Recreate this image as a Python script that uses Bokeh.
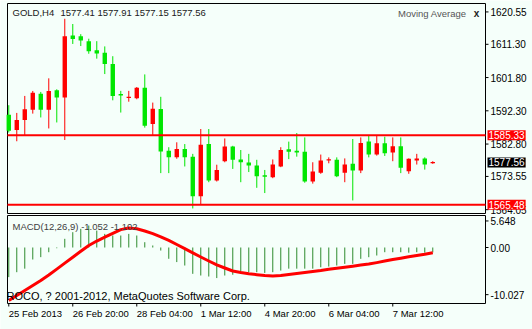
from bokeh.plotting import figure
from bokeh.models import Label, Range1d
from bokeh.core.properties import value
from bokeh.layouts import column
from bokeh.embed import file_html
from bokeh.resources import INLINE

# ---------------- data ----------------
symbol = "GOLD,H4"
opens = [1591.15, 1586.8, 1589.65, 1592.57, 1597.2, 1592.57, 1598.17, 1596.07, 1613.8, 1613.6,
         1612.2, 1609.6, 1608.9, 1605.7, 1597.1, 1596.0, 1595.9, 1598.9, 1588.5, 1592.8,
         1580.9, 1579.0, 1581.4, 1579.2, 1567.9, 1582.8, 1572.4, 1577.9, 1582.1, 1578.4,
         1577.5, 1576.7, 1573.9, 1573.35, 1576.4, 1581.3, 1580.9, 1580.6, 1572.1, 1574.6,
         1578.2, 1578.3, 1574.6, 1577.15, 1575.25, 1583.5, 1579.8, 1583.0, 1580.4, 1582.15,
         1575.05, 1578.1, 1578.7, 1577.41]
highs = [1593.9, 1591.7, 1596.55, 1597.97, 1597.7, 1601.58, 1598.45, 1618.6, 1617.1, 1614.2,
         1612.9, 1612.2, 1610.7, 1607.9, 1598.0, 1598.0, 1599.1, 1602.7, 1594.65, 1596.3,
         1581.9, 1583.3, 1582.8, 1580.0, 1587.1, 1587.1, 1576.9, 1584.4, 1582.3, 1581.1,
         1580.0, 1578.3, 1575.4, 1578.4, 1581.9, 1583.5, 1585.95, 1584.7, 1577.6, 1579.8,
         1579.0, 1579.0, 1578.7, 1584.25, 1584.7, 1585.2, 1585.2, 1584.9, 1584.7, 1584.7,
         1578.7, 1580.0, 1579.0, 1577.91]
lows = [1586.1, 1583.6, 1585.2, 1591.5, 1590.4, 1587.26, 1588.97, 1583.97, 1611.4, 1610.8,
        1608.6, 1607.2, 1602.8, 1595.3, 1591.8, 1594.9, 1595.6, 1587.5, 1585.2, 1574.5,
        1574.5, 1578.6, 1576.4, 1564.4, 1565.5, 1571.9, 1572.1, 1577.6, 1575.7, 1571.9,
        1574.8, 1570.3, 1568.8, 1573.05, 1576.2, 1578.5, 1579.2, 1571.75, 1571.5, 1574.3,
        1577.3, 1573.35, 1571.9, 1566.7, 1574.5, 1579.0, 1579.5, 1579.4, 1577.9, 1574.5,
        1574.3, 1576.95, 1575.5, 1577.15]
closes = [1586.6, 1589.65, 1592.77, 1597.49, 1592.57, 1597.97, 1596.07, 1613.6, 1612.83, 1612.4,
          1609.3, 1608.7, 1605.7, 1596.55, 1596.7, 1596.3, 1598.9, 1588.0, 1592.9, 1580.7,
          1579.0, 1581.4, 1579.0, 1567.9, 1582.6, 1572.4, 1575.4, 1582.1, 1578.3, 1577.6,
          1576.7, 1573.6, 1573.45, 1576.95, 1581.1, 1580.6, 1580.4, 1572.1, 1574.95, 1578.1,
          1578.4, 1573.6, 1576.95, 1575.25, 1583.1, 1579.8, 1583.0, 1580.2, 1582.15, 1576.0,
          1578.6, 1578.7, 1576.95, 1577.56]

macd_main = [-6.3, -5.25, -4.5, -2.55, -2.05, -1.0, -0.15, 1.85, 3.26, 3.97,
             4.68, 3.6, 2.9, 2.55, 2.55, 2.9, 2.55, 1.13, 0.43, -0.64,
             -2.4, -3.1, -3.83, -5.6, -5.96, -6.17, -6.5, -5.96, -5.8, -5.6,
             -5.25, -5.25, -5.4, -5.25, -4.9, -4.5, -4.5, -4.5, -4.5, -4.2,
             -4.05, -3.83, -3.48, -3.48, -2.41, -2.06, -1.7, -1.0, -1.0, -1.0,
             -1.1, -1.0, -1.1, -1.052]
macd_signal = [-11.28, -10.2, -9.15, -8.09, -7.02, -5.85, -4.6, -3.32, -2.06, -0.81,
               0.43, 1.38, 2.19, 3.02, 3.81, 4.17, 4.0, 3.51, 2.94, 2.28,
               1.51, 0.64, -0.23, -1.13, -2.02, -2.87, -3.68, -4.36, -5.0, -5.32,
               -5.6, -5.77, -5.94, -6.06, -5.96, -5.74, -5.53, -5.32, -5.09, -4.89,
               -4.64, -4.4, -4.19, -3.98, -3.74, -3.51, -3.21, -2.89, -2.57, -2.28,
               -1.98, -1.7, -1.45, -1.102]

levels = [1585.33, 1565.48]
price_ticks = [1620.55, 1611.30, 1601.80, 1592.30, 1582.80, 1573.55, 1564.05]
price_tick_labels = ["1620.55", "1611.30", "1601.80", "1592.30", "1582.80", "1573.55", "1564.05"]
macd_ticks = [5.648, 0.0, -10.027]
macd_tick_labels = ["5.648", "0.00", "-10.027"]
date_idx = [0, 8, 16, 24, 32, 40, 48]
date_labels = ["25 Feb 2013", "26 Feb 20:00", "28 Feb 04:00", "1 Mar 12:00",
               "4 Mar 20:00", "6 Mar 04:00", "7 Mar 12:00"]
indicator_name = "Moving Average"
macd_name = "MACD(12,26,9)"
copyright_text = "ROCO, ? 2001-2012, MetaQuotes Software Corp."

# ---------------- style / layout ----------------
BG = "#F5FFFA"
RED = "#FF0000"
GREEN = "#00E600"
HIST = "#2E8B2E"
FONT = "Liberation Sans"
W = 532
PX_X = 8.0              # px per bar
PAN_L, PAN_R = 7, 485   # panel borders (px)

n = len(opens)
xs = list(range(n))
xp0, xp1 = -0.16, 59.59             # bars shown inside the panels
py0, py1 = 1562.96, 1622.96         # price panel range
my0, my1 = -11.91, 6.81             # MACD panel range

x_full = Range1d(xp0 - PAN_L / PX_X, xp1 + (W - PAN_R) / PX_X)

colors = [RED if c >= o else GREEN for o, c in zip(opens, closes)]
tops, bots = [], []
for o, c in zip(opens, closes):
    t, b = max(o, c), min(o, c)
    if t - b < 0.35:
        mid = (t + b) / 2
        t, b = mid + 0.175, mid - 0.175
    tops.append(t)
    bots.append(b)


def make_fig(height, top_px, bottom_px, y0, y1):
    scale = (bottom_px - top_px) / (y1 - y0)
    yr = Range1d(y0 - (height - bottom_px) / scale, y1 + top_px / scale)
    f = figure(width=W, height=height, x_range=x_full, y_range=yr,
               output_backend="svg", toolbar_location=None,
               x_axis_location=None, y_axis_location=None,
               min_border_left=0, min_border_right=0, min_border_top=0, min_border_bottom=0,
               background_fill_color=BG, border_fill_color=BG, outline_line_color=None)
    f.grid.visible = False
    f.quad(left=[xp0], right=[xp1], bottom=[y0], top=[y1],
           fill_color=BG, line_color="black", line_width=1)
    return f, scale


def right_axis(f, ticks, labels, scale_unused=None):
    f.segment(x0=[xp1] * len(ticks), y0=ticks, x1=[xp1 + 3 / PX_X] * len(ticks), y1=ticks,
              line_color="black", line_width=1)
    f.text(x=[xp1] * len(ticks), y=ticks, text=labels, x_offset=5,
           text_align="left", text_baseline="middle",
           text_font=value(FONT), text_font_size=value("10px"), text_color="black")


# ---------------- price panel ----------------
p, pscale = make_fig(214, 3, 213, py0, py1)
right_axis(p, price_ticks, price_tick_labels)

p.segment(x0=xs, y0=lows, x1=xs, y1=highs, line_color=colors, line_width=1)
p.vbar(x=xs, width=0.55, top=tops, bottom=bots, fill_color=colors, line_color=None)
p.segment(x0=[xp0] * len(levels), y0=levels, x1=[xp1] * len(levels), y1=levels,
          line_color=RED, line_width=2)

for lv, bg in [(levels[0], RED), (levels[1], RED), (closes[-1], "black")]:
    p.add_layout(Label(x=xp1, y=lv, x_offset=2, text=f"{lv:.2f}", text_baseline="middle",
                       text_align="left", text_color="white", text_font=FONT,
                       text_font_size="10px", background_fill_color=bg, padding=1))

p.add_layout(Label(x=xp0, y=py1, x_offset=5, y_offset=-9, text=symbol,
                   text_baseline="middle", text_font=FONT, text_font_size="9.5px",
                   text_color="#202020"))
p.add_layout(Label(x=xp0, y=py1, x_offset=53, y_offset=-9,
                   text=f"{opens[-1]:.2f} {highs[-1]:.2f} {lows[-1]:.2f} {closes[-1]:.2f}",
                   text_baseline="middle", text_font=FONT, text_font_size="9.5px",
                   text_color="#202020"))
p.add_layout(Label(x=xp1, y=py1, x_offset=-19, y_offset=-10, text=indicator_name,
                   text_align="right", text_baseline="middle", text_font=FONT,
                   text_font_size="9.5px", text_color="#555555"))
p.add_layout(Label(x=xp1, y=py1, x_offset=-9, y_offset=-10, text="x",
                   text_align="center", text_baseline="middle", text_font=FONT,
                   text_font_size="10px", text_font_style="bold", text_color="#222222"))

# ---------------- MACD panel ----------------
m, mscale = make_fig(115, 1, 89, my0, my1)
right_axis(m, macd_ticks, macd_tick_labels)

m.segment(x0=xs, y0=[0] * n, x1=xs, y1=macd_main, line_color=HIST, line_width=1)
m.line(xs, macd_signal, line_color=RED, line_width=3, line_join="round")

m.segment(x0=date_idx, y0=[my0] * len(date_idx), x1=date_idx,
          y1=[my0 - 3 / mscale] * len(date_idx), line_color="black", line_width=1)
m.text(x=date_idx, y=[my0] * len(date_idx), text=date_labels, y_offset=9.5,
       text_align="left", text_baseline="middle",
       text_font=value(FONT), text_font_size=value("9.5px"), text_color="black")

m.add_layout(Label(x=xp0, y=my1, x_offset=5, y_offset=-10.7,
                   text=f"{macd_name} {macd_main[-1]:.3f} {macd_signal[-1]:.3f}",
                   text_baseline="middle", text_font=FONT, text_font_size="9.5px",
                   text_color="#404040"))
m.add_layout(Label(x=xp0, y=my0, x_offset=-1, y_offset=7.3, text=copyright_text,
                   text_baseline="middle", text_font=FONT, text_font_size="11px",
                   text_color="black"))

layout = column(p, m, spacing=0)
open("out.html", "w").write(file_html(layout, INLINE))
